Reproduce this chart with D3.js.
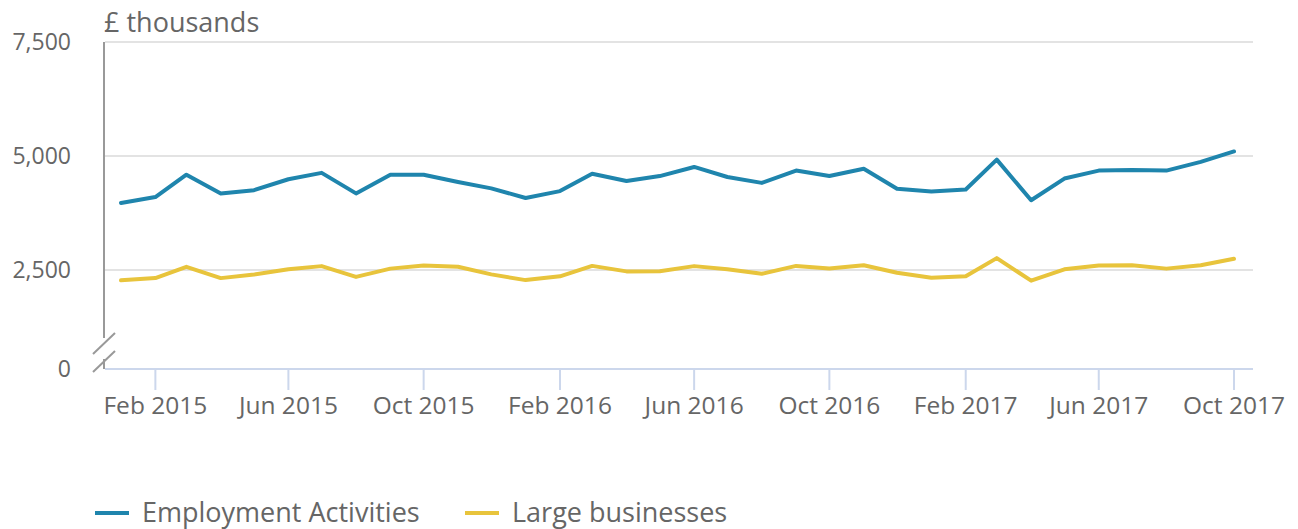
<!DOCTYPE html>
<html>
<head>
<meta charset="utf-8">
<script src="https://cdn.jsdelivr.net/npm/d3@7"></script>
<style>
  body { margin: 0; background: #fff; }
  text { font-family: "Open Sans", sans-serif; fill: #666; }
</style>
</head>
<body>
<div id="chart"></div>
<script>
// monthly data, Jan 2015 .. Oct 2017
const months = [
  '2015-01', '2015-02', '2015-03', '2015-04', '2015-05', '2015-06', '2015-07', '2015-08', '2015-09', '2015-10', '2015-11', '2015-12',
  '2016-01', '2016-02', '2016-03', '2016-04', '2016-05', '2016-06', '2016-07', '2016-08', '2016-09', '2016-10', '2016-11', '2016-12',
  '2017-01', '2017-02', '2017-03', '2017-04', '2017-05', '2017-06', '2017-07', '2017-08', '2017-09', '2017-10'
];
const employmentActivities = [
  3970, 4100, 4590, 4180, 4250, 4490, 4630, 4180, 4590, 4590, 4430, 4290,
  4080, 4230, 4610, 4450, 4560, 4760, 4540, 4410, 4680, 4560, 4720, 4280,
  4220, 4265, 4920, 4030, 4505, 4680, 4695, 4680, 4870, 5100
];
const largeBusinesses = [
  2240, 2295, 2570, 2295, 2385, 2515, 2585, 2325, 2530, 2600, 2570, 2390,
  2245, 2340, 2590, 2465, 2470, 2585, 2515, 2405, 2590, 2535, 2605, 2430,
  2305, 2340, 2760, 2230, 2515, 2600, 2605, 2530, 2605, 2745
];
const yTicks = [0, 2500, 5000, 7500];
const xTickMonths = ['2015-02', '2015-06', '2015-10', '2016-02', '2016-06', '2016-10', '2017-02', '2017-06', '2017-10'];
const seriesNames = ['Employment Activities', 'Large businesses'];
const seriesColors = ['#1f85ad', '#e8c43c'];

const width = 1298;
const height = 529;
const parse = d3.timeParse('%Y-%m');
const dates = months.map(parse);

const svg = d3.select('#chart').append('svg')
  .attr('width', width)
  .attr('height', height);

const left = 104, right = 1253;

const x = d3.scaleTime()
  .domain([dates[0], dates[dates.length - 1]])
  .range([121, 1234]);

// broken axis: the 0..2500 band is compressed
const y = d3.scaleLinear()
  .domain([0, 2500, 7500])
  .range([369, 270, 42]);

// gridlines
svg.append('g')
  .selectAll('line')
  .data(yTicks.filter(d => d > 0))
  .join('line')
  .attr('x1', left + 1)
  .attr('x2', right)
  .attr('y1', d => y(d))
  .attr('y2', d => y(d))
  .attr('stroke', '#e3e3e3')
  .attr('stroke-width', 2);

// y labels
svg.append('g')
  .selectAll('text')
  .data(yTicks)
  .join('text')
  .attr('x', 71)
  .attr('y', d => y(d))
  .attr('dy', '0.35em')
  .attr('text-anchor', 'end')
  .style('font-size', '23px')
  .text(d3.format(','));

// y axis with break
const axisColor = '#999';
svg.append('line')
  .attr('x1', left).attr('x2', left)
  .attr('y1', y(7500)).attr('y2', 338)
  .attr('stroke', axisColor).attr('stroke-width', 2);
svg.append('line')
  .attr('x1', left).attr('x2', left)
  .attr('y1', 359).attr('y2', y(0))
  .attr('stroke', axisColor).attr('stroke-width', 2);
[[354, 333], [372, 351]].forEach(([y1, y2]) => {
  svg.append('line')
    .attr('x1', 93).attr('y1', y1)
    .attr('x2', 115).attr('y2', y2)
    .attr('stroke', axisColor).attr('stroke-width', 2);
});

// x axis
const xAxisColor = '#ccd7ec';
svg.append('line')
  .attr('x1', left + 1).attr('x2', right)
  .attr('y1', y(0)).attr('y2', y(0))
  .attr('stroke', xAxisColor).attr('stroke-width', 2);

const xTicks = svg.append('g')
  .selectAll('g')
  .data(xTickMonths.map(parse))
  .join('g')
  .attr('transform', d => `translate(${x(d)},0)`);
xTicks.append('line')
  .attr('y1', y(0)).attr('y2', 390)
  .attr('stroke', xAxisColor).attr('stroke-width', 2);
xTicks.append('text')
  .attr('y', 405)
  .attr('dy', '0.35em')
  .attr('text-anchor', 'middle')
  .style('font-size', '24.5px')
  .text(d3.timeFormat('%b %Y'));

// unit label
svg.append('text')
  .attr('x', left)
  .attr('y', 23)
  .attr('dy', '0.35em')
  .style('font-size', '27px')
  .text('£ thousands');

// lines
const line = d3.line()
  .x((d, i) => x(dates[i]))
  .y(d => y(d));

[employmentActivities, largeBusinesses].forEach((values, i) => {
  svg.append('path')
    .datum(values)
    .attr('d', line)
    .attr('fill', 'none')
    .attr('stroke', seriesColors[i])
    .attr('stroke-width', 4)
    .attr('stroke-linejoin', 'round')
    .attr('stroke-linecap', 'round');
});

// legend
const legendX = [95, 465];
seriesNames.forEach((name, i) => {
  const g = svg.append('g').attr('transform', `translate(${legendX[i]},513)`);
  g.append('line')
    .attr('x1', 0).attr('x2', 34)
    .attr('stroke', seriesColors[i])
    .attr('stroke-width', 4);
  g.append('text')
    .attr('x', 47)
    .attr('dy', '0.35em')
    .style('font-size', '27px')
    .text(name);
});
</script>
</body>
</html>
